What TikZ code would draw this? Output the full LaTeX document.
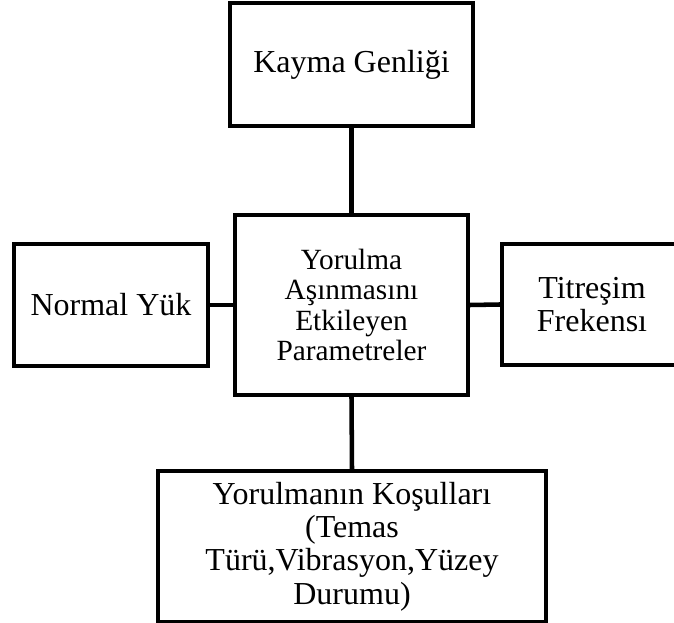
\documentclass[tikz,border=0pt]{standalone}
\usepackage{fontspec}
\setmainfont{Liberation Serif}
\begin{document}
\begin{tikzpicture}[x=0.75pt,y=-0.75pt,
  box/.style={draw,line width=3pt,align=center,inner sep=0pt,font=\fontsize{24}{24.5}\selectfont},
  link/.style={line width=3.4pt}]
\useasboundingbox (0,0) rectangle (674,623);
\clip (0,0) rectangle (674,623);
\node[box,minimum width=243*0.75pt,minimum height=123*0.75pt] (top) at (351.5,64.5) {Kayma Genliği};
\node[box,minimum width=233*0.75pt,minimum height=180*0.75pt,font=\fontsize{22}{22.7}\selectfont] (mid) at (351.5,305) {Yorulma\\Aşınmasını\\Etkileyen\\Parametreler};
\node[box,minimum width=194*0.75pt,minimum height=122*0.75pt] (left) at (111,305) {Normal Yük};
\node[box,minimum width=180*0.75pt,minimum height=121*0.75pt] (right) at (592,304.5) {Titreşim\\Frekensı};
\node[box,minimum width=388*0.75pt,minimum height=151*0.75pt,font=\fontsize{24}{25}\selectfont] (bot) at (352,546.5) {Yorulmanın Koşulları\\(Temas\\Türü,Vibrasyon,Yüzey\\Durumu)};
\draw[link] (top.south) -- (mid.north);
\draw[link] (mid.south) -- (bot.north);
\draw[link] (left.east) -- (mid.west);
\draw[link] (mid.east) -- (right.west);
\end{tikzpicture}
\end{document}
